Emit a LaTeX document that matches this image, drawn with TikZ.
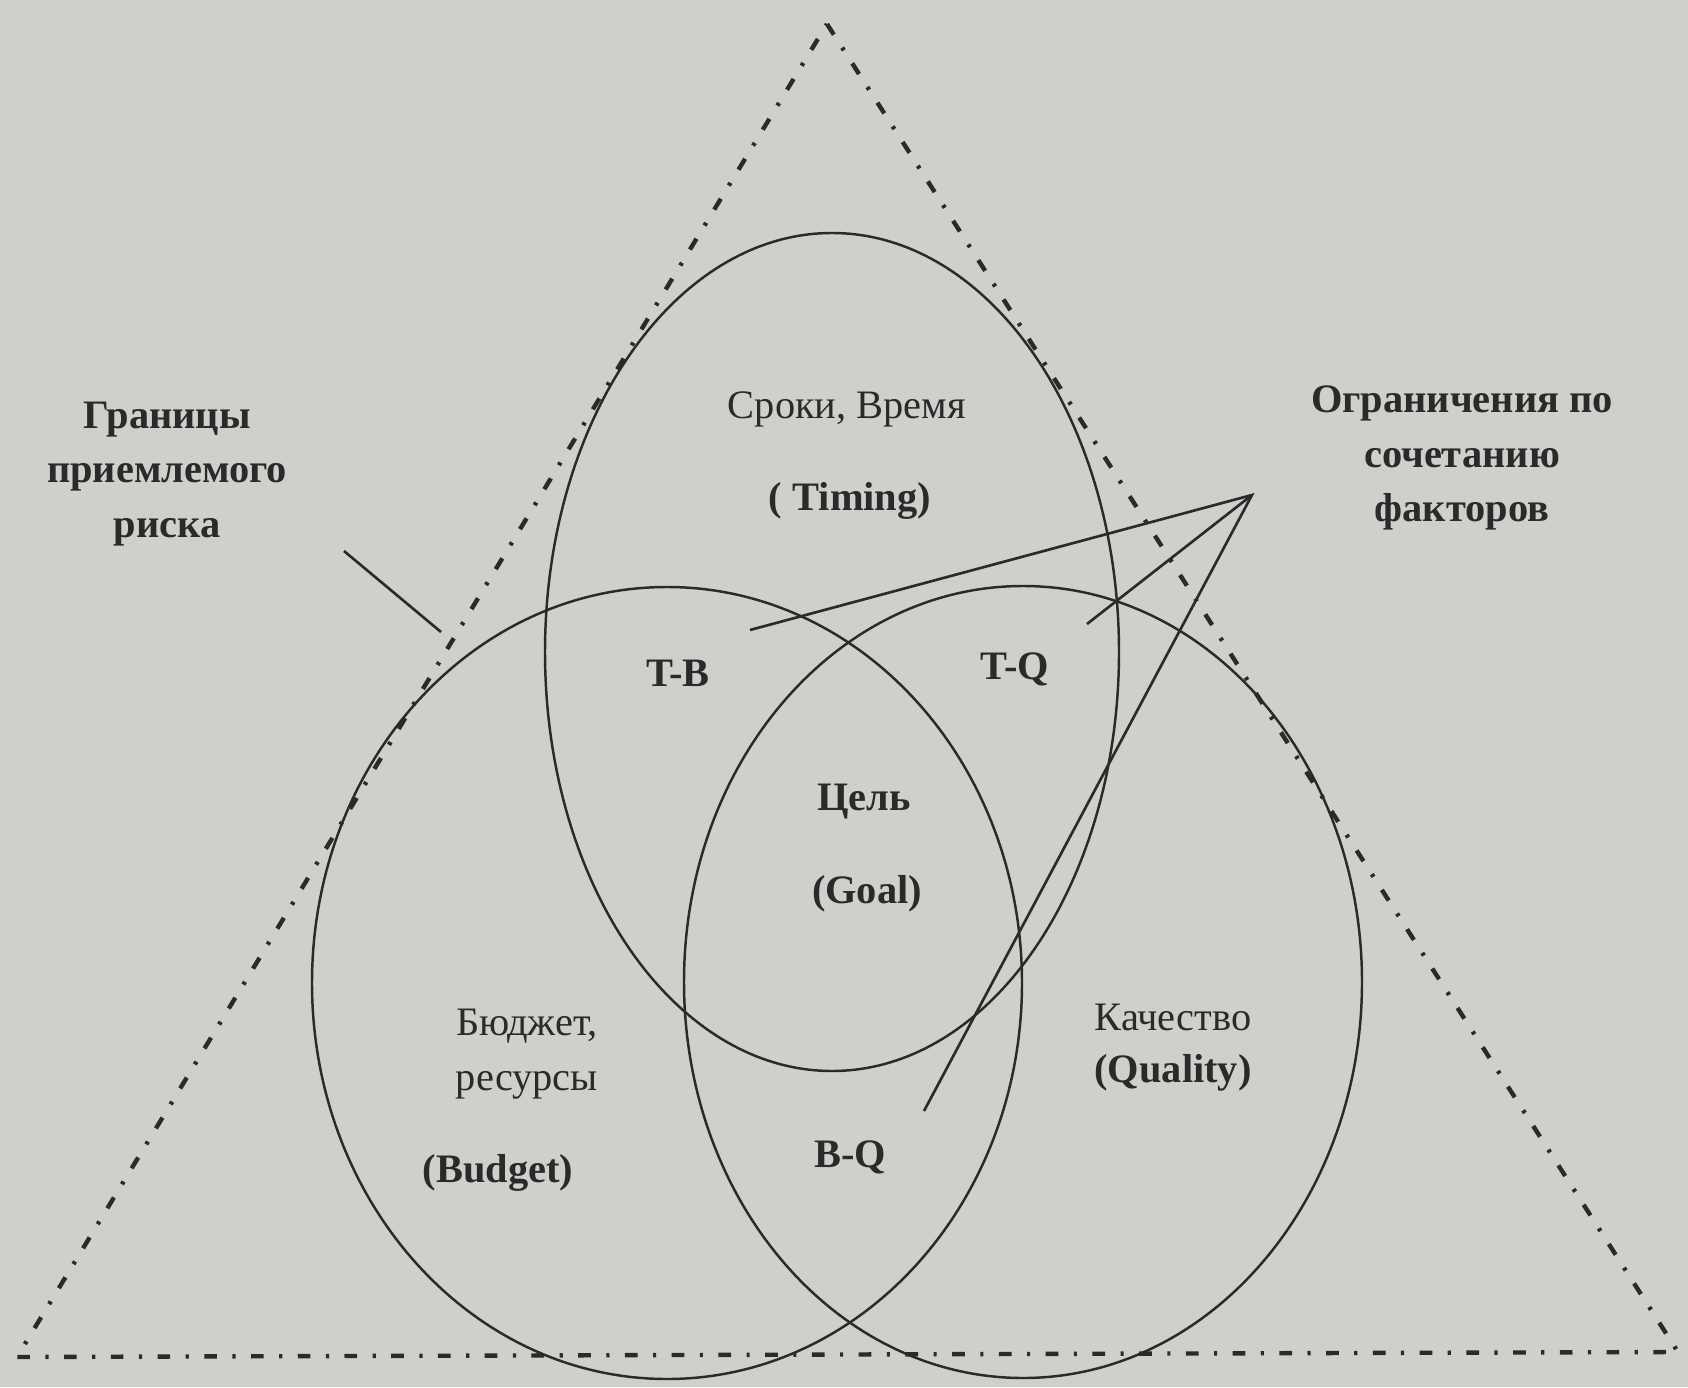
\documentclass[tikz,border=0pt]{standalone}
\usepackage{fontspec}
\setmainfont{Liberation Serif}
\usepackage{tikz}
\usepackage{xcolor}
\usetikzlibrary{calc,positioning}
\definecolor{PaperGray}{HTML}{CFCFCB}
\definecolor{InkDark}{HTML}{2A2A2A}

\begin{document}
\begin{tikzpicture}[
      font=\fontsize{11.5}{15.5}\selectfont,
      riskline/.style={draw=InkDark,line width=1.25pt,dash pattern=on 3.6pt off 4.4pt on 0.9pt off 4.4pt},
      factor/.style={draw=InkDark,line width=0.7pt},
      lbl/.style={text=InkDark,align=center,inner sep=0pt},
      lblb/.style={lbl,font=\fontsize{11.5}{15.5}\selectfont\bfseries},
      leader/.style={draw=InkDark,line width=0.75pt}
    ]
      \fill[PaperGray] (0,0) rectangle (16.88,13.87);
      \useasboundingbox (0,0) rectangle (16.88,13.87);
      % boundary of acceptable risk
      \coordinate (apex) at (8.27,13.63);
      \coordinate (bl) at (0.17,0.30);
      \coordinate (br) at (16.78,0.35);
      \draw[riskline] (apex) -- (br) -- (bl) -- cycle;
      % three factors
      \draw[factor] (8.32,7.35) ellipse [x radius=2.87cm,y radius=4.19cm];
      \draw[factor] (6.67,4.04) ellipse [x radius=3.55cm,y radius=3.96cm];
      \draw[factor] (10.23,4.05) ellipse [x radius=3.39cm,y radius=3.96cm];
      \node[lbl] (time) at (8.47,9.78) {Сроки, Время};
      \node[lblb] (timing) at (8.50,8.86) {( Timing)};
      \node[lblb] (tb) at (6.78,7.14) {T-B};
      \node[lblb] (tq) at (10.15,7.18) {T-Q};
      \node[lblb] (goal) at (8.64,5.85) {Цель};
      \node[lblb] (goalen) at (8.67,4.93) {(Goal)};
      \node[lbl] (budget) at (5.27,3.33) {Бюджет,\\ресурсы};
      \node[lblb] (budgeten) at (4.98,2.14) {(Budget)};
      \node[lbl] (quality) at (11.73,3.70) {Качество};
      \node[lblb] (qualityen) at (11.73,3.14) {(Quality)};
      \node[lblb] (bq) at (8.50,2.30) {B-Q};
      % side notes
      \node[lblb] (risk) at (1.67,9.13) {Границы\\приемлемого\\риска};
      \node[lblb] (limits) at (14.62,9.29) {Ограничения по\\сочетанию\\факторов};
      \coordinate (riskA) at (3.44,8.36);
      \coordinate (riskB) at (4.41,7.55);
      \draw[leader] (riskA) -- (riskB);
      \coordinate (fk) at (12.52,8.92);
      \coordinate (tbend) at (7.50,7.57);
      \coordinate (tqend) at (10.87,7.63);
      \coordinate (bqend) at (9.24,2.76);
      \draw[leader] (tbend) -- (fk) -- (bqend);
      \draw[leader] (tqend) -- (fk);
    \end{tikzpicture}
\end{document}
